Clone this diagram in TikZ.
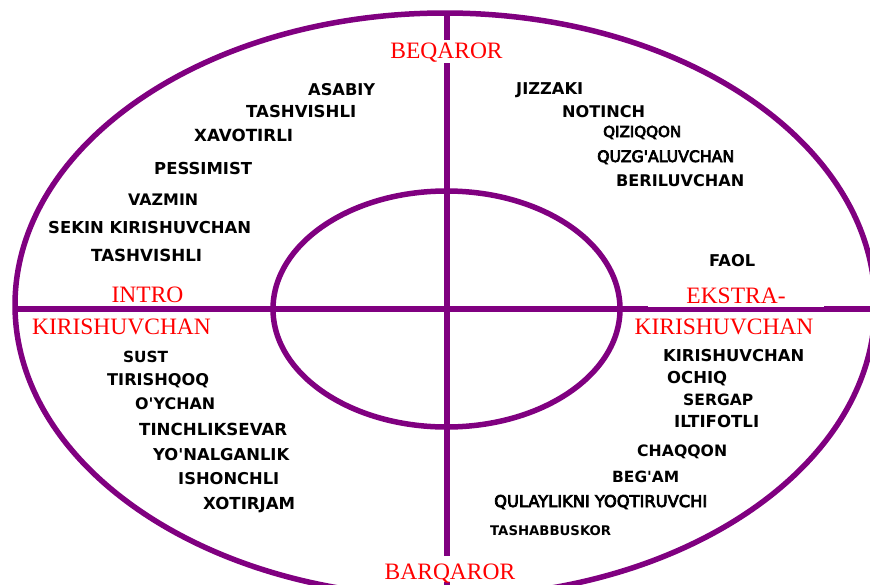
\documentclass[tikz,border=0pt]{standalone}
\usepackage{fontspec}
\usepackage{graphicx}
\newfontfamily\redfont{Liberation Serif}
\newfontfamily\dvs{DejaVu Sans}[Ligatures=TeXOff]
\newcommand\fitto[2]{\resizebox{#1pt}{!}{#2}}
\newcommand\semibold[1]{\special{pdf:literal direct 2 Tr 0.45 w 0 0 0 RG}#1\special{pdf:literal direct 0 Tr}}
\definecolor{ringpurple}{RGB}{128,0,128}
\tikzset{
  ring/.style={draw=ringpurple, line width=5.5pt},
  axisline/.style={draw=ringpurple, line width=5.5pt},
  pole/.style={text=red, font=\redfont\fontsize{23.5}{23.5}\selectfont, inner sep=0pt, anchor=base},
  trait/.style={anchor=base west, inner sep=0pt, font=\dvs\bfseries},
  soft/.style={anchor=base west, inner sep=0pt, font=\dvs},
}
\begin{document}
\begin{tikzpicture}[x=1pt,y=-1pt]
\useasboundingbox (0,0) rectangle (870,584);
\clip (0,0) rectangle (870,584);
% rings
\draw[ring] (445,305) ellipse [x radius=430pt, y radius=292pt];
\draw[ring] (446.5,309) ellipse [x radius=173.5pt, y radius=118pt];
% axes
\coordinate (ntop) at (447,13);
\coordinate (nbot) at (447,600);
\coordinate (wend) at (13,309);
\coordinate (eend) at (872,309);
\draw[axisline] (ntop) -- (nbot);
\draw[axisline] (wend) -- (eend);
% white label backgrounds
\fill[white] (386,40) rectangle (508,63);
\fill[white] (382,556) rectangle (518,581.5);
\fill[white] (648,282) rectangle (824,307.3);
% pole labels
\node[pole] (beqaror) at (446.5,58) {BEQAROR};
\node[pole] (barqaror) at (450,579) {BARQAROR};
\node[pole] (intro) at (147.5,302) {INTRO};
\node[pole] (kirw) at (121.5,334) {KIRISHUVCHAN};
\node[pole] (ekstra) at (736,303) {EKSTRA-};
\node[pole] (kire) at (724,334) {KIRISHUVCHAN};
% upper left
\node[trait] (asabiy) at (308,95) {\fitto{67}{ASABIY}};
\node[trait] (tash1) at (246,117) {\fitto{110}{TASHVISHLI}};
\node[trait] (xavot) at (194,141) {\fitto{99}{XAVOTIRLI}};
\node[trait] (pessim) at (154,174) {\fitto{98}{PESSIMIST}};
\node[trait] (vazmin) at (128,205) {\fitto{70}{VAZMIN}};
\node[trait] (sekin) at (48,233) {\fitto{203}{SEKIN KIRISHUVCHAN}};
\node[trait] (tash2) at (91,261) {\fitto{111}{TASHVISHLI}};
% upper right
\node[trait] (jizzaki) at (516,94) {\fitto{67}{JIZZAKI}};
\node[trait] (notinch) at (562,117) {\fitto{83}{NOTINCH}};
\node[soft] (qiziq) at (603,137) {\fitto{78}{\semibold{QIZIQQON}}};
\node[soft] (quzg) at (597,162) {\fitto{137}{\semibold{QUZG'ALUVCHAN}}};
\node[trait] (beril) at (616,186) {\fitto{128}{BERILUVCHAN}};
\node[trait] (faol) at (709,266) {\fitto{46}{FAOL}};
% lower left
\node[trait] (sust) at (123,362) {\fitto{45}{SUST}};
\node[trait] (tirish) at (107,385) {\fitto{102}{TIRISHQOQ}};
\node[trait] (oychan) at (135,409) {\fitto{80}{O'YCHAN}};
\node[trait] (tinch) at (139,435) {\fitto{148}{TINCHLIKSEVAR}};
\node[trait] (yonal) at (153,460) {\fitto{136}{YO'NALGANLIK}};
\node[trait] (ishon) at (178,484) {\fitto{101}{ISHONCHLI}};
\node[trait] (xotir) at (203,509) {\fitto{92}{XOTIRJAM}};
% lower right
\node[trait] (kirish) at (663,361) {\fitto{141}{KIRISHUVCHAN}};
\node[trait] (ochiq) at (667,383) {\fitto{60}{OCHIQ}};
\node[trait] (sergap) at (683,405) {\fitto{70}{SERGAP}};
\node[trait] (iltif) at (674,427) {\fitto{85}{ILTIFOTLI}};
\node[trait] (chaq) at (637,456) {\fitto{90}{CHAQQON}};
\node[trait] (begam) at (612,482) {\fitto{67}{BEG'AM}};
\node[soft] (qulay) at (494,507) {\fitto{213}{\semibold{QULAYLIKNI YOQTIRUVCHI}}};
\node[trait] (tashab) at (490,535) {\fitto{121}{TASHABBUSKOR}};
\end{tikzpicture}
\end{document}
